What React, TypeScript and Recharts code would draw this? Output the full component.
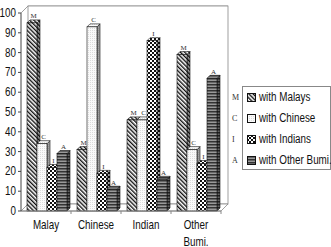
import React from "react";
import {
  Bar,
  BarChart,
  CartesianGrid,
  ReferenceArea,
  XAxis,
  YAxis,
} from "recharts";

const categories = ["Malay", "Chinese", "Indian", "Other Bumi."];
const withMalays = [95, 31, 46, 79];
const withChinese = [34, 93, 46, 31];
const withIndians = [22, 19, 86, 24];
const withOtherBumi = [29, 11, 16, 67];

const seriesKeys = ["malays", "chinese", "indians", "other"];
const seriesNames = ["with Malays", "with Chinese", "with Indians", "with Other Bumi."];
const seriesLetters = ["M", "C", "I", "A"];
const yTicks = [0, 10, 20, 30, 40, 50, 60, 70, 80, 90, 100];

const data = categories.map((name, i) => ({
  name,
  malays: withMalays[i],
  chinese: withChinese[i],
  indians: withIndians[i],
  other: withOtherBumi[i],
}));

const DEPTH = 3;
const WALL = 7;
const NARROW = 0.82;
const FONT = "'Liberation Sans', Arial, sans-serif";

function Patterns() {
  return (
    <defs>
      <pattern id="pat-m" width="3" height="3" patternUnits="userSpaceOnUse" patternTransform="rotate(-45)">
        <rect width="3" height="3" fill="#fff" />
        <rect width="1.4" height="3" fill="#111" />
      </pattern>
      <pattern id="pat-c" width="2" height="2" patternUnits="userSpaceOnUse">
        <rect width="2" height="2" fill="#fafafa" />
        <rect width="1" height="1" fill="#dcdcdc" />
      </pattern>
      <pattern id="pat-i" width="4" height="4" patternUnits="userSpaceOnUse">
        <rect width="4" height="4" fill="#fff" />
        <rect width="2" height="2" fill="#111" />
        <rect x="2" y="2" width="2" height="2" fill="#111" />
      </pattern>
      <pattern id="pat-a" width="3" height="3" patternUnits="userSpaceOnUse">
        <rect width="3" height="3" fill="#999" />
        <rect width="3" height="1.5" fill="#333" />
      </pattern>
    </defs>
  );
}

const patternIds = ["pat-m", "pat-c", "pat-i", "pat-a"];

function makeBarShape(pat: string) {
  return (props: any) => {
    const { x, y, width, height } = props;
    if (!height || height <= 0) return null;
    const d = DEPTH;
    const side = `${x + width},${y} ${x + width + d},${y - d} ${x + width + d},${y + height - d} ${x + width},${y + height}`;
    return (
      <g>
        <polygon points={side} fill={`url(#${pat})`} stroke="#111" strokeWidth={0.6} />
        <polygon points={side} fill="rgba(0,0,0,0.35)" />
        <polygon
          points={`${x},${y} ${x + d},${y - d} ${x + width + d},${y - d} ${x + width},${y}`}
          fill={`url(#${pat})`}
          stroke="#111"
          strokeWidth={0.6}
        />
        <rect x={x} y={y} width={width} height={height} fill={`url(#${pat})`} stroke="#111" strokeWidth={0.6} />
      </g>
    );
  };
}

function makeLetterLabel(letter: string) {
  return (props: any) => {
    const { x, y, width } = props;
    return (
      <text
        x={x + width / 2 + DEPTH / 2}
        y={y - DEPTH - 1.5}
        textAnchor="middle"
        fontFamily="'Liberation Serif', serif"
        fontSize={7}
        fill="#333"
      >
        {letter}
      </text>
    );
  };
}

function WallShape(props: any) {
  const { x, y, width, height } = props;
  const w = WALL;
  const bottom = y + height;
  const n = categories.length;
  const band = width / n;
  const ticks = [];
  for (let i = 1; i <= n; i++) {
    const tx = x + band * i;
    ticks.push(<line key={i} x1={tx} y1={bottom} x2={tx} y2={bottom + 3} stroke="#888" />);
  }
  return (
    <g>
      <rect x={x + w} y={y - w} width={width} height={height} fill="#fff" stroke="#888" strokeWidth={0.8} />
      <polygon
        points={`${x},${bottom} ${x + w},${bottom - w} ${x + width + w},${bottom - w} ${x + width},${bottom}`}
        fill="#fff"
        stroke="#888"
        strokeWidth={0.8}
      />
      <line x1={x} y1={y} x2={x + w} y2={y - w} stroke="#888" strokeWidth={0.8} />
      {ticks}
    </g>
  );
}

function gridLine(props: any) {
  const { x1, y1, x2, y2 } = props;
  return <line x1={x1 + WALL} y1={y1 - WALL} x2={x2 + WALL} y2={y2 - WALL} stroke="#999" strokeWidth={0.8} />;
}

function CategoryTick(props: any) {
  const { x, y, payload } = props;
  const lines = String(payload.value).split(" ");
  return (
    <g transform={`translate(${x},${y}) scale(${NARROW},1)`}>
      <text x={0} y={0} textAnchor="middle" fontFamily={FONT} fontSize={12} fill="#111">
        {lines.map((l, i) => (
          <tspan key={i} x={0} dy={i === 0 ? 18 : 17}>
            {l}
          </tspan>
        ))}
      </text>
    </g>
  );
}

function ValueTick(props: any) {
  const { x, y, payload } = props;
  return (
    <g transform={`translate(${x},${y}) scale(${NARROW},1)`}>
      <text x={0} y={0} dy={4} textAnchor="end" fontFamily={FONT} fontSize={12} fill="#111">
        {payload.value}
      </text>
    </g>
  );
}

function LegendBox() {
  return (
    <div style={{ position: "absolute", left: 232, top: 86, width: 99, height: 84, fontFamily: FONT }}>
      <div
        style={{
          position: "absolute",
          left: 10,
          top: 0,
          width: 87,
          height: 82,
          border: "1px solid #888",
          background: "#fff",
        }}
      />
      {seriesNames.map((name, i) => (
        <div
          key={name}
          style={{ position: "absolute", left: 0, top: 4 + i * 21, height: 14, display: "flex", alignItems: "center" }}
        >
          <span style={{ width: 10, fontFamily: "'Liberation Serif', serif", fontSize: 8, color: "#333" }}>
            {seriesLetters[i]}
          </span>
          <svg width={9} height={9} style={{ marginLeft: 5, marginRight: 3 }}>
            <rect x={0.5} y={0.5} width={8} height={8} fill={`url(#${patternIds[i]})`} stroke="#111" />
          </svg>
          <span
            style={{
              fontSize: 12,
              color: "#111",
              whiteSpace: "nowrap",
              display: "inline-block",
              transform: `scaleX(${NARROW})`,
              transformOrigin: "left center",
            }}
          >
            {name}
          </span>
        </div>
      ))}
    </div>
  );
}

export default function App() {
  return (
    <div style={{ position: "absolute", left: 0, top: 0, width: 331, height: 247, background: "#fff" }}>
      <BarChart
        width={331}
        height={247}
        data={data}
        margin={{ top: 13, right: 110, bottom: 0, left: 0 }}
        barCategoryGap={6}
        barGap={0}
      >
        <Patterns />
        <ReferenceArea y1={0} y2={100} ifOverflow="visible" shape={<WallShape />} />
        <CartesianGrid vertical={false} horizontal={gridLine} />
        <XAxis
          dataKey="name"
          tickLine={false}
          tickSize={0}
          tickMargin={0}
          height={36}
          axisLine={{ stroke: "#888" }}
          tick={<CategoryTick />}
          interval={0}
        />
        <YAxis
          width={21}
          domain={[0, 100]}
          ticks={yTicks}
          interval={0}
          tickSize={3}
          tickMargin={2}
          axisLine={{ stroke: "#444" }}
          tickLine={{ stroke: "#444" }}
          tick={<ValueTick />}
        />
        {seriesKeys.map((key, i) => (
          <Bar
            key={key}
            dataKey={key}
            name={seriesNames[i]}
            isAnimationActive={false}
            shape={makeBarShape(patternIds[i])}
            label={makeLetterLabel(seriesLetters[i])}
          />
        ))}
      </BarChart>
      <LegendBox />
    </div>
  );
}
